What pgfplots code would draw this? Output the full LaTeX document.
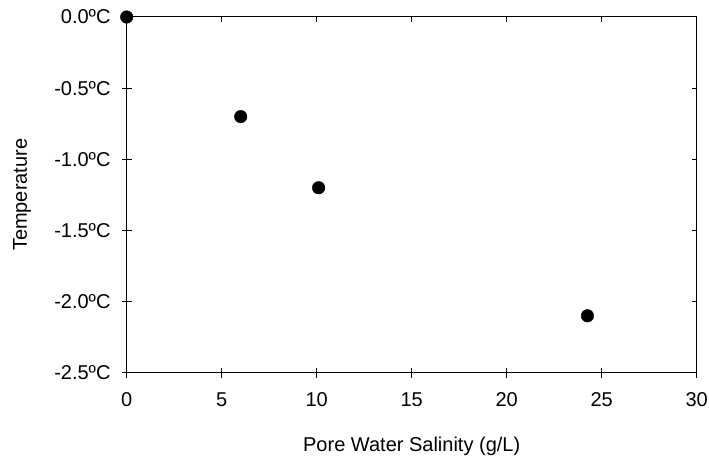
\documentclass[border=0pt]{standalone}
\usepackage{fontspec}
\setmainfont{Liberation Sans}
\usepackage{pgfplots}
\pgfplotsset{compat=1.18}

\pgfplotsset{
  frame/.style={
    at={(0,0)}, anchor=south west,
    scale only axis, width=570bp, height=355.7bp,
    xmin=0, xmax=30, ymin=-2.5, ymax=0,
    xtick={0,5,10,15,20,25,30},
    ytick={-2.5,-2,-1.5,-1,-0.5,0},
    axis line style={line width=1bp, black},
    tick style={line width=1bp, black},
    font=\fontsize{20bp}{24bp}\selectfont,
  }
}

\begin{document}
\begin{tikzpicture}
\path[use as bounding box] (-126.7bp,-84.3bp) rectangle (582.3bp,372.7bp);

\begin{axis}[
  frame,
  xtick pos=bottom, ytick pos=left,
  tick align=center, major tick length=10bp,
  xticklabels={0,5,10,15,20,25,30},
  yticklabels={-2.5ºC,-2.0ºC,-1.5ºC,-1.0ºC,-0.5ºC,0.0ºC},
  xticklabel style={anchor=north, inner sep=0pt, yshift=-15bp},
  yticklabel style={anchor=east, inner sep=0pt, xshift=-11bp},
  xlabel={Pore Water Salinity (g/L)},
  ylabel={Temperature},
  xlabel style={at={(axis description cs:0.5,0)}, anchor=base, yshift=-78.5bp},
  ylabel style={at={(axis description cs:0,0.5)}, anchor=base, yshift=99.7bp},
  clip=false,
]
\addplot[only marks, mark=*, mark size=6.3bp, black] coordinates {
  (0,0) (6,-0.7) (10.1,-1.2) (24.25,-2.1)
};
\end{axis}

% inward ticks on the top and right sides
\begin{axis}[
  frame,
  xtick pos=top, ytick pos=right,
  tick align=inside, major tick length=5bp,
  xticklabels={}, yticklabels={},
]
\end{axis}
\end{tikzpicture}
\end{document}
